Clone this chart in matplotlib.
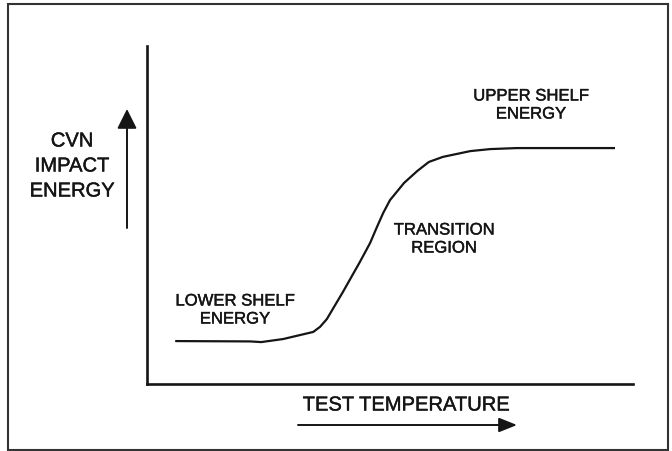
import matplotlib.pyplot as plt
import matplotlib.patheffects as pe

# transition curve (arbitrary units, 0-100)
temperature = [5.8, 21.2, 23.5, 28.0, 34.2, 35.6, 37.0, 40.3, 43.8, 45.9,
               47.3, 48.6, 50.0, 52.9, 55.6, 58.0, 60.9, 66.5, 70.6, 76.1, 96.3]
energy = [12.7, 12.6, 12.4, 13.3, 15.4, 16.9, 19.2, 27.2, 36.1, 41.7,
          46.4, 50.6, 54.4, 59.5, 63.0, 65.7, 67.2, 68.9, 69.5, 69.8, 69.8]

# region labels: (text, x, y, size, line spacing) in figure pixels
labels = [
    ("UPPER SHELF\nENERGY", 531, 106, 12, 1.25),
    ("TRANSITION\nREGION", 444, 240, 12, 1.25),
    ("LOWER SHELF\nENERGY", 235, 311, 12, 1.25),
    ("CVN\nIMPACT\nENERGY", 72, 167, 14.5, 1.4),
    ("TEST TEMPERATURE", 406, 406, 14.5, 1.25),
]

W, H = 672, 452
ink = "#151515"
plt.rcParams["font.family"] = ["Liberation Sans", "DejaVu Sans"]

fig = plt.figure(figsize=(W / 100, H / 100), dpi=100)

# overlay axes in pixel coordinates for the frame, arrows and text
over = fig.add_axes([0, 0, 1, 1])
over.set_xlim(0, W)
over.set_ylim(H, 0)
over.axis("off")
over.plot([668, 8, 8, 668, 668], [5, 5, 451, 451, 5], color="#333333", lw=1.5,
          solid_joinstyle="miter")

# main plot axes
left, right, top, bottom = 147, 633, 47, 385
ax = fig.add_axes([left / W, 1 - bottom / H, (right - left) / W, (bottom - top) / H])
ax.plot(temperature, energy, color=ink, lw=1.6, solid_joinstyle="round",
        solid_capstyle="butt")
ax.set_xlim(0, 100)
ax.set_ylim(0, 100)
ax.set_xticks([])
ax.set_yticks([])
ax.patch.set_alpha(0)
for s in ("top", "right"):
    ax.spines[s].set_visible(False)
for s in ("left", "bottom"):
    ax.spines[s].set_linewidth(1.9)
    ax.spines[s].set_color(ink)

# axis arrows
over.annotate("", xy=(127, 110), xytext=(127, 229),
              arrowprops=dict(arrowstyle="-|>,head_length=0.6,head_width=0.3",
                              mutation_scale=20, lw=1.4, color=ink,
                              shrinkA=0, shrinkB=0))
over.annotate("", xy=(517, 426), xytext=(298, 426),
              arrowprops=dict(arrowstyle="-|>,head_length=0.55,head_width=0.22",
                              mutation_scale=20, lw=1.4, color=ink,
                              shrinkA=0, shrinkB=0))

for txt, x, y, size, ls in labels:
    over.text(x, y, txt, ha="center", va="center", fontsize=size,
              color=ink, linespacing=ls,
              path_effects=[pe.withStroke(linewidth=0.3, foreground=ink)])

fig.savefig("out.png", dpi=100)
